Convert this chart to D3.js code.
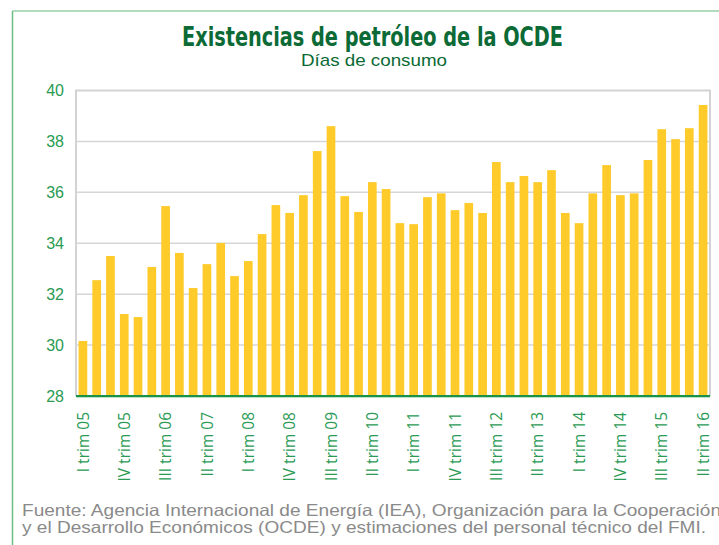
<!DOCTYPE html>
<html>
<head>
<meta charset="utf-8">
<script src="https://cdn.jsdelivr.net/npm/d3@7"></script>
<style>
  body { margin: 0; background: #fff; }
  svg { display: block; }
</style>
</head>
<body>
<svg id="chart" width="719" height="545"></svg>
<script>
// quarters I 2005 .. II 2016
const quarters = [];
const romans = ['I', 'II', 'III', 'IV'];
for (let yr = 5; yr <= 16; yr++) {
    for (let q = 0; q < 4; q++) {
        if (yr == 16 && q > 1) break;
        quarters.push(romans[q] + ' trim ' + String(yr).padStart(2, '0'));
    }
}

// dias de consumo
const stocks = [
    30.16, 32.55, 33.50, 31.22, 31.10, 33.07, 35.46, 33.62, 32.24, 33.18,
    34.01, 32.71, 33.30, 34.36, 35.50, 35.19, 35.89, 37.62, 38.60, 35.85,
    35.23, 36.40, 36.13, 34.79, 34.75, 35.81, 35.96, 35.30, 35.58, 35.19,
    37.19, 36.40, 36.64, 36.40, 36.87, 35.19, 34.79, 35.96, 37.07, 35.89,
    35.96, 37.27, 38.48, 38.09, 38.52, 39.43
];

const yTicks = [28, 30, 32, 34, 36, 38, 40];

const titleText = 'Existencias de petróleo de la OCDE';
const subtitleText = 'Días de consumo';
const sourceLines = [
    'Fuente: Agencia Internacional de Energía (IEA), Organización para la Cooperación',
    'y el Desarrollo Económicos (OCDE) y estimaciones del personal técnico del FMI.'
];

const svg = d3.select('#chart');
const plot = {left: 76, right: 710, top: 90.5, bottom: 396};

const green = '#2a9a55';

// outer frame (top + left)
svg.append('line').attr('x1', 12.5).attr('x2', 719).attr('y1', 11).attr('y2', 11)
    .style('stroke', '#96cfa6').style('stroke-width', 1.5);
svg.append('line').attr('x1', 12.5).attr('x2', 12.5).attr('y1', 11).attr('y2', 545)
    .style('stroke', '#6cbf84').style('stroke-width', 1.5);

// titles
svg.append('text').attr('x', 372.5).attr('y', 46)
    .attr('text-anchor', 'middle')
    .attr('textLength', 381).attr('lengthAdjust', 'spacingAndGlyphs')
    .style('font-family', '"DejaVu Sans Condensed", "Liberation Sans Narrow", "Roboto", sans-serif')
    .style('font-stretch', 'condensed')
    .style('font-weight', 'bold').style('font-size', '26px')
    .style('fill', '#0b6a35')
    .text(titleText);
svg.append('text').attr('x', 374).attr('y', 66)
    .attr('text-anchor', 'middle')
    .attr('textLength', 146).attr('lengthAdjust', 'spacingAndGlyphs')
    .style('font-family', '"Liberation Sans", Arial, sans-serif')
    .style('font-size', '17px').style('fill', '#0b6a35')
    .text(subtitleText);

const x = d3.scaleBand()
    .domain(quarters)
    .range([plot.left + 0.5, plot.right - 0.5])
    .paddingInner(0.37).paddingOuter(0.15);

const y = d3.scaleLinear()
    .domain([28, 40])
    .range([plot.bottom, plot.top]);

// grid
svg.append('g').selectAll('line')
    .data(yTicks.slice(1, -1))
    .enter().append('line')
    .attr('x1', plot.left).attr('x2', plot.right)
    .attr('y1', function(d){return y(d)}).attr('y2', function(d){return y(d)})
    .style('stroke', '#d6d6d6').style('stroke-width', 1.5);

// plot frame (top, left, right)
svg.append('path')
    .attr('d', 'M' + plot.left + ',' + plot.bottom + 'V' + plot.top + 'H' + plot.right + 'V' + plot.bottom)
    .style('fill', 'none').style('stroke', '#d3d3d3').style('stroke-width', 2);

// bars
svg.append('g').selectAll('rect')
    .data(stocks)
    .enter().append('rect')
    .attr('x', function(d, i){return x(quarters[i])})
    .attr('width', x.bandwidth())
    .attr('y', function(d){return y(d)})
    .attr('height', function(d){return y(28) - y(d)})
    .style('fill', '#fecb2a');

// y axis labels
const yAxis = svg.append('g')
    .attr('transform', 'translate(' + (plot.left - 12) + ',0)')
    .call(d3.axisLeft(y).tickValues(yTicks).tickSize(0).tickPadding(0));
yAxis.select('.domain').remove();
yAxis.selectAll('text')
    .style('font-family', '"Liberation Sans", Arial, sans-serif')
    .style('font-size', '16px').style('fill', green);

// x axis
const xAxis = svg.append('g')
    .attr('transform', 'translate(0,' + plot.bottom + ')')
    .call(d3.axisBottom(x).tickValues(quarters.filter(function(d, i){return i % 3 == 0})).tickSize(0));
xAxis.select('.domain').remove();
xAxis.selectAll('text')
    .attr('transform', 'rotate(-90)')
    .attr('x', -16).attr('y', 0).attr('dy', '0.36em')
    .style('text-anchor', 'end')
    .style('font-family', '"Open Sans", sans-serif')
    .style('font-size', '15.5px').style('fill', green);

svg.append('line')
    .attr('x1', plot.left).attr('x2', plot.right)
    .attr('y1', plot.bottom + 1.5).attr('y2', plot.bottom + 1.5)
    .style('stroke', '#bfe0c8').style('stroke-width', 1);
svg.append('line')
    .attr('x1', plot.left).attr('x2', plot.right)
    .attr('y1', plot.bottom).attr('y2', plot.bottom)
    .style('stroke', '#1a9348').style('stroke-width', 2);

// source, stretched to the width seen in the picture
const src = svg.append('g').selectAll('text')
    .data(sourceLines)
    .enter().append('text')
    .attr('x', 22).attr('y', function(d, i){return 516 + i * 17})
    .style('font-family', '"Liberation Sans", Arial, sans-serif')
    .style('font-size', '16.5px').style('fill', '#8a8a8a')
    .text(function(d){return d});
const lastW = src.nodes()[1].getComputedTextLength();
const stretch = 684 / lastW;
src.each(function(){
    d3.select(this)
        .attr('textLength', this.getComputedTextLength() * stretch)
        .attr('lengthAdjust', 'spacingAndGlyphs');
});
</script>
</body>
</html>
